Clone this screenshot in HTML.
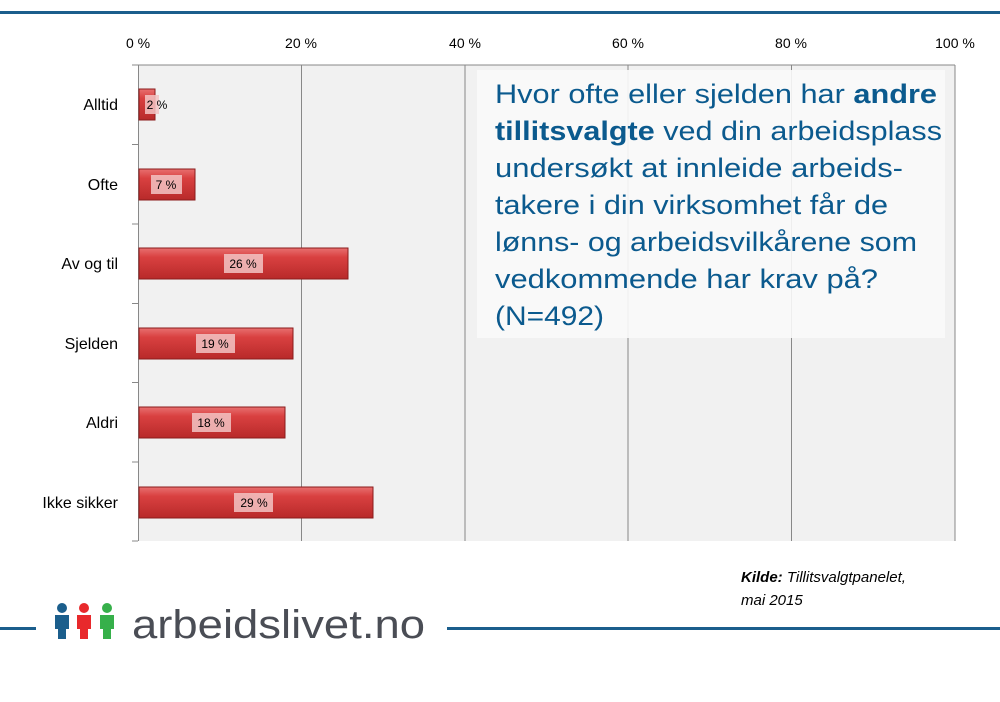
<!DOCTYPE html><html><head><style>
body{margin:0;width:1000px;height:702px;background:#fff;position:relative;overflow:hidden;font-family:"Liberation Sans",sans-serif}
.a{position:absolute}
</style></head><body>
<div class="a" style="left:0;top:11px;width:1000px;height:3px;background:#1b5e8c"></div>
<svg class="a" style="left:0;top:0" width="1000" height="702">
<defs><linearGradient id="g" x1="0" y1="0" x2="0" y2="1"><stop offset="0" stop-color="#e87070"/><stop offset="0.3" stop-color="#d94040"/><stop offset="1" stop-color="#b82a2a"/></linearGradient></defs>
<rect x="138" y="65" width="817" height="476" fill="#f1f1f1"/>
<g stroke="#888" stroke-width="1">
<line x1="301.5" y1="65" x2="301.5" y2="541"/><line x1="465" y1="65" x2="465" y2="541"/><line x1="628" y1="65" x2="628" y2="541"/><line x1="791.5" y1="65" x2="791.5" y2="541"/><line x1="955" y1="65" x2="955" y2="541"/>
<line x1="138" y1="65" x2="955" y2="65"/>
<line x1="138.5" y1="65" x2="138.5" y2="541"/>
<line x1="132" y1="144.5" x2="138" y2="144.5"/><line x1="132" y1="224" x2="138" y2="224"/><line x1="132" y1="303.5" x2="138" y2="303.5"/><line x1="132" y1="382.5" x2="138" y2="382.5"/><line x1="132" y1="462" x2="138" y2="462"/><line x1="132" y1="541" x2="138" y2="541"/><line x1="132" y1="65" x2="138" y2="65"/>
</g>
<g font-size="14" fill="#000" text-anchor="middle">
<text x="138" y="48">0 %</text><text x="301" y="48">20 %</text><text x="465" y="48">40 %</text><text x="628" y="48">60 %</text><text x="791" y="48">80 %</text><text x="955" y="48">100 %</text>
</g>
<g font-size="16" fill="#000" text-anchor="end">
<text x="118" y="110">Alltid</text><text x="118" y="190">Ofte</text><text x="118" y="269">Av og til</text><text x="118" y="349">Sjelden</text><text x="118" y="428">Aldri</text><text x="118" y="508">Ikke sikker</text>
</g>
<g fill="url(#g)" stroke="#8a1c1c" stroke-width="1">
<rect x="139" y="89" width="16" height="31"/>
<rect x="139" y="169" width="56" height="31"/>
<rect x="139" y="248" width="209" height="31"/>
<rect x="139" y="328" width="154" height="31"/>
<rect x="139" y="407" width="146" height="31"/>
<rect x="139" y="487" width="234" height="31"/>
</g>
<g fill="#f3c4c4" opacity="0.85">
<rect x="145" y="95" width="14" height="19"/><rect x="151" y="175" width="31" height="19"/><rect x="224" y="254" width="39" height="19"/><rect x="196" y="334" width="39" height="19"/><rect x="192" y="413" width="39" height="19"/><rect x="234" y="493" width="39" height="19"/>
</g>
<g font-size="12" fill="#000" text-anchor="middle">
<text x="157" y="109">2 %</text><text x="166" y="189">7 %</text><text x="243" y="268">26 %</text><text x="215" y="348">19 %</text><text x="211" y="427">18 %</text><text x="254" y="507">29 %</text>
</g>
<rect x="477" y="70" width="468" height="268" fill="#fafafa" opacity="0.9"/>
<g font-size="27" fill="#0b5a8e" lengthAdjust="spacingAndGlyphs">
<text x="495" y="103" textLength="442" lengthAdjust="spacingAndGlyphs">Hvor ofte eller sjelden har <tspan font-weight="bold">andre</tspan></text>
<text x="495" y="140" textLength="447" lengthAdjust="spacingAndGlyphs"><tspan font-weight="bold">tillitsvalgte</tspan> ved din arbeidsplass</text>
<text x="495" y="177" textLength="408" lengthAdjust="spacingAndGlyphs">undersøkt at innleide arbeids-</text>
<text x="495" y="214" textLength="393" lengthAdjust="spacingAndGlyphs">takere i din virksomhet får de</text>
<text x="495" y="251" textLength="422" lengthAdjust="spacingAndGlyphs">lønns- og arbeidsvilkårene som</text>
<text x="495" y="288" textLength="383" lengthAdjust="spacingAndGlyphs">vedkommende har krav på?</text>
<text x="495" y="325" textLength="109" lengthAdjust="spacingAndGlyphs">(N=492)</text>
</g>
<g font-size="15" font-style="italic" fill="#000">
<text x="741" y="582"><tspan font-weight="bold">Kilde:</tspan> Tillitsvalgtpanelet,</text>
<text x="741" y="605">mai 2015</text>
</g>
<rect x="0" y="627" width="36" height="3" fill="#1b5e8c"/>
<rect x="447" y="627" width="553" height="3" fill="#1b5e8c"/>
<g>
<circle cx="62" cy="608" r="5" fill="#1b5e8c"/><path d="M55 615h14v14h-3v10h-8v-10h-3z" fill="#1b5e8c"/>
<circle cx="84" cy="608" r="5" fill="#e8292c"/><path d="M77 615h14v14h-3v10h-8v-10h-3z" fill="#e8292c"/>
<circle cx="107" cy="608" r="5" fill="#36b04a"/><path d="M100 615h14v14h-3v10h-8v-10h-3z" fill="#36b04a"/>
</g>
<text x="132" y="638" font-size="40" fill="#4a4d55" textLength="293" lengthAdjust="spacingAndGlyphs">arbeidslivet.no</text>
</svg>
</body></html>
